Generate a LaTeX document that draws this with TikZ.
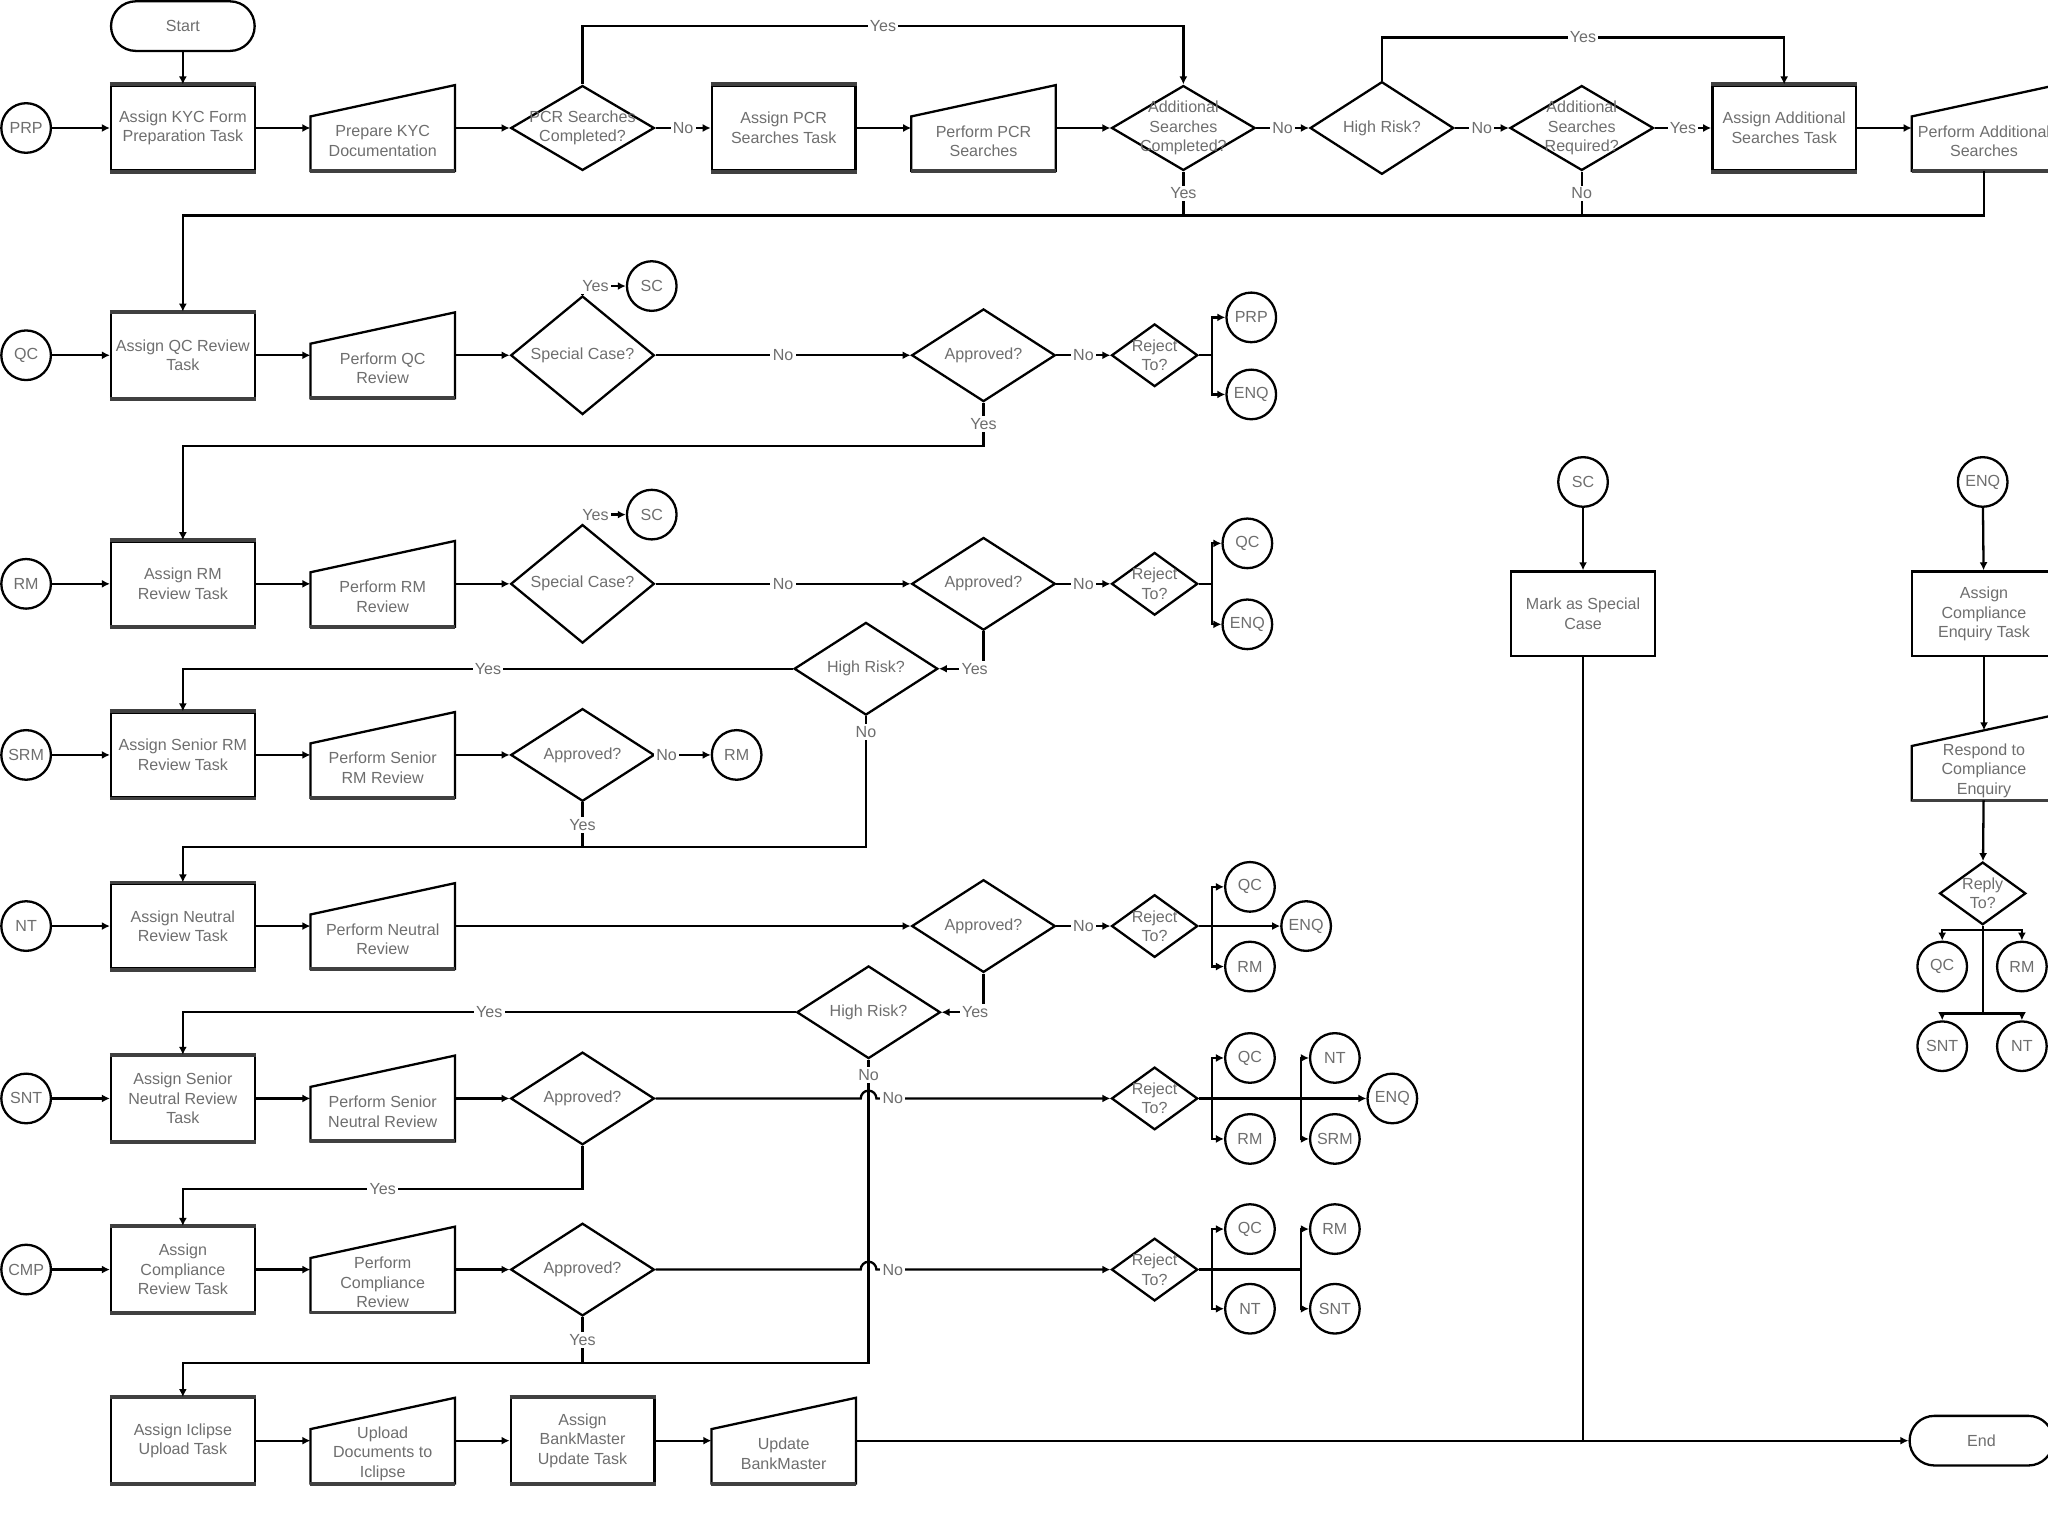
\documentclass[tikz,border=0pt]{standalone}
\usepackage{fontspec}
\setmainfont{Liberation Sans}
\usepackage{xcolor}
\usepackage{tikz}
\usetikzlibrary{positioning, arrows.meta, calc, shapes.geometric}
\definecolor{kycgray}{HTML}{6E6E6E}

\begin{document}
\begin{tikzpicture}[x=0.02cm, y=-0.02cm,
    base/.style={font=\fontsize{7}{8.5}\selectfont, text=kycgray, align=center},
    task/.style={base, draw, line width=1pt, minimum width=2.2cm, minimum height=1.3cm, inner sep=1pt},
    manual/.style={base, minimum width=2.2cm, minimum height=1.3cm, inner sep=1pt},
    mtext/.style={base, yshift=-0.2cm},
    decision/.style={base, draw, diamond, line width=1pt, minimum width=2.2cm,
                     minimum height=1.3cm, inner sep=0pt},
    choice/.style={decision, minimum width=1.32cm, minimum height=0.96cm},
    dtext/.style={base},
    link/.style={base, draw, circle, line width=1pt, minimum size=0.76cm, inner sep=0pt},
    term/.style={base, draw, rounded corners=0.38cm, line width=1pt,
                 minimum width=2.2cm, minimum height=0.76cm},
    mshape/.style={line width=1pt},
    edge/.style={line width=1.7pt, black!75},
    flow/.style={line width=1pt, -{Latex[length=3.5pt,width=3.5pt]}},
    wire/.style={line width=1pt},
    yn/.style={base, fill=white, inner sep=1pt},
]
\useasboundingbox (0,0) rectangle (1568,1176);
\clip (0,0) rectangle (1568,1176);

% Preparation and searches
\node[term] (start) at (140,20) {Start};
\node[link] (prp) at (20,98) {PRP};
\node[task] (kyctask) at (140,98) {Assign KYC Form\\Preparation Task};
\node[manual, label={[mtext]center:Prepare KYC\\Documentation}] (kycdoc) at (293,98) {};
\node[decision, label={[dtext]center:PCR Searches\\Completed?}] (pcrdone) at (446,98) {};
\node[task] (pcrtask) at (600,98) {Assign PCR\\Searches Task};
\node[manual, label={[mtext]center:Perform PCR\\Searches}] (pcrdo) at (753,98) {};
\node[decision, label={[dtext]center:Additional\\Searches\\Completed?}] (adddone) at (906,98) {};
\node[decision] (risk1) at (1058,98) {High Risk?};
\node[decision, label={[dtext]center:Additional\\Searches\\Required?}] (addreq) at (1211,98) {};
\node[task] (addtask) at (1366,98) {Assign Additional\\Searches Task};
\node[manual, label={[mtext]center:Perform Additional\\Searches}] (adddo) at (1519,98) {};

% QC review
\node[link] (qc) at (20,272) {QC};
\node[task] (qctask) at (140,272) {Assign QC Review\\Task};
\node[manual, label={[mtext]center:Perform QC\\Review}] (qcdo) at (293,272) {};
\node[decision] (qcsc) at (446,272) {Special Case?};
\node[link] (qcsccon) at (499,219) {SC};
\node[decision] (qcok) at (753,272) {Approved?};
\node[choice, label={[dtext]center:Reject\\To?}] (qcrej) at (884,272) {};
\node[link] (qcprp) at (958,243) {PRP};
\node[link] (qcenq) at (958,302) {ENQ};

% RM review
\node[link] (rm) at (20,447) {RM};
\node[task] (rmtask) at (140,447) {Assign RM\\Review Task};
\node[manual, label={[mtext]center:Perform RM\\Review}] (rmdo) at (293,447) {};
\node[decision] (rmsc) at (446,447) {Special Case?};
\node[link] (rmsccon) at (499,394) {SC};
\node[decision] (rmok) at (753,447) {Approved?};
\node[choice, label={[dtext]center:Reject\\To?}] (rmrej) at (884,447) {};
\node[link] (rmqc) at (955,416) {QC};
\node[link] (rmenq) at (955,478) {ENQ};
\node[decision] (risk2) at (663,512) {High Risk?};

% Senior RM review
\node[link] (srm) at (20,578) {SRM};
\node[task] (srmtask) at (140,578) {Assign Senior RM\\Review Task};
\node[manual, label={[mtext]center:Perform Senior\\RM Review}] (srmdo) at (293,578) {};
\node[decision] (srmok) at (446,578) {Approved?};
\node[link] (srmrm) at (564,578) {RM};

% Neutral review
\node[link] (nt) at (20,709) {NT};
\node[task] (nttask) at (140,709) {Assign Neutral\\Review Task};
\node[manual, label={[mtext]center:Perform Neutral\\Review}] (ntdo) at (293,709) {};
\node[decision] (ntok) at (753,709) {Approved?};
\node[choice, label={[dtext]center:Reject\\To?}] (ntrej) at (884,709) {};
\node[link] (ntqc) at (957,679) {QC};
\node[link] (ntenq) at (1000,709) {ENQ};
\node[link] (ntrm) at (957,740) {RM};
\node[decision] (risk3) at (665,775) {High Risk?};

% Senior neutral review
\node[link] (snt) at (20,841) {SNT};
\node[task] (snttask) at (140,841) {Assign Senior\\Neutral Review\\Task};
\node[manual, label={[mtext]center:Perform Senior\\Neutral Review}] (sntdo) at (293,841) {};
\node[decision] (sntok) at (446,841) {Approved?};
\node[choice, label={[dtext]center:Reject\\To?}] (sntrej) at (884,841) {};
\node[link] (sntqc) at (957,810) {QC};
\node[link] (sntrm) at (957,872) {RM};
\node[link] (sntnt) at (1022,810) {NT};
\node[link] (sntsrm) at (1022,872) {SRM};
\node[link] (sntenq) at (1066,841) {ENQ};

% Compliance review
\node[link] (cmp) at (20,972) {CMP};
\node[task] (cmptask) at (140,972) {Assign\\Compliance\\Review Task};
\node[manual, label={[mtext]center:Perform\\Compliance\\Review}] (cmpdo) at (293,972) {};
\node[decision] (cmpok) at (446,972) {Approved?};
\node[choice, label={[dtext]center:Reject\\To?}] (cmprej) at (884,972) {};
\node[link] (cmpqc) at (957,941) {QC};
\node[link] (cmpnt) at (957,1002) {NT};
\node[link] (cmprm) at (1022,941) {RM};
\node[link] (cmpsnt) at (1022,1002) {SNT};

% Upload and update
\node[task] (ictask) at (140,1103) {Assign Iclipse\\Upload Task};
\node[manual, label={[mtext]center:Upload\\Documents to\\Iclipse}] (icdo) at (293,1103) {};
\node[task] (bmtask) at (446,1103) {Assign\\BankMaster\\Update Task};
\node[manual, label={[mtext]center:Update\\BankMaster}] (bmdo) at (600,1103) {};
\node[term] (endnode) at (1517,1103) {End};

% Special case and enquiry
\node[link] (sc) at (1212,369) {SC};
\node[task] (spcase) at (1212,470) {Mark as Special\\Case};
\node[link] (enq) at (1518,369) {ENQ};
\node[task] (enqtask) at (1519,470) {Assign\\Compliance\\Enquiry Task};
\node[manual, label={[mtext]center:Respond to\\Compliance\\Enquiry}] (enqdo) at (1519,580) {};
\node[choice, label={[dtext]center:Reply\\To?}] (reply) at (1518,684) {};
\node[link] (replyqc) at (1487,740) {QC};
\node[link] (replyrm) at (1548,740) {RM};
\node[link] (replysnt) at (1487,801) {SNT};
\node[link] (replynt) at (1548,801) {NT};

% manual input outlines
\foreach \m in {kycdoc, pcrdo, adddo, qcdo, rmdo, srmdo, ntdo, sntdo, cmpdo, icdo, bmdo, enqdo} {
  \draw[mshape] (\m.south west) -- (\m.south east) -- (\m.north east)
                -- ([yshift=-0.48cm]\m.north west) -- cycle;
  \draw[edge] (\m.south west) -- (\m.south east);
}
% heavier top and bottom edges of the task boxes
\foreach \t in {kyctask, pcrtask, addtask, qctask, rmtask, srmtask, nttask, snttask, cmptask, ictask, bmtask} {
  \draw[edge] (\t.north west) -- (\t.north east);
  \draw[edge] (\t.south west) -- (\t.south east);
}

% connectors: preparation row
\draw[flow] (start) -- (kyctask);
\draw[flow] (prp) -- (kyctask);
\draw[flow] (kyctask) -- (kycdoc);
\draw[flow] (kycdoc) -- (pcrdone);
\draw[flow] (pcrdone) -- node[yn]{No} (pcrtask);
\draw[flow] (pcrtask) -- (pcrdo);
\draw[flow] (pcrdo) -- (adddone);
\draw[flow] (pcrdone.north) -- (pcrdone.north |- start) -- node[yn]{Yes} (adddone.north |- start) -- (adddone.north);
\draw[flow] (adddone) -- node[yn]{No} (risk1);
\draw[flow] (risk1) -- node[yn]{No} (addreq);
\draw[flow] (addreq) -- node[yn]{Yes} (addtask);
\draw[flow] (addtask) -- (adddo);
\draw[flow] (risk1.north) -- ++(0,-33) -| node[yn, pos=0.25]{Yes} (addtask.north);
\coordinate (qcbus) at (906,165);
\draw[wire] (adddo.south) |- (qcbus);
\draw[wire] (addreq.south) -- node[yn]{No} (addreq.south |- qcbus);
\draw[flow] (adddone.south) -- node[yn]{Yes} (qcbus) -| (qctask.north);

% QC row
\draw[flow] (qc) -- (qctask);
\draw[flow] (qctask) -- (qcdo);
\draw[flow] (qcdo) -- (qcsc);
\draw[flow] (qcsc.north) |- node[yn, pos=0.65]{Yes} (qcsccon);
\draw[flow] (qcsc) -- node[yn]{No} (qcok);
\draw[flow] (qcok) -- node[yn]{No} (qcrej);
\draw[flow] (qcrej.east) -- ++(10,0) |- (qcprp);
\draw[flow] (qcrej.east) -- ++(10,0) |- (qcenq);
\draw[flow] (qcok.south) -- node[yn]{Yes} ++(0,33) -| (rmtask.north);

% RM row
\draw[flow] (rm) -- (rmtask);
\draw[flow] (rmtask) -- (rmdo);
\draw[flow] (rmdo) -- (rmsc);
\draw[flow] (rmsc.north) |- node[yn, pos=0.65]{Yes} (rmsccon);
\draw[flow] (rmsc) -- node[yn]{No} (rmok);
\draw[flow] (rmok) -- node[yn]{No} (rmrej);
\draw[flow] (rmrej.east) -- ++(10,0) |- (rmqc);
\draw[flow] (rmrej.east) -- ++(10,0) |- (rmenq);
\draw[flow] (rmok.south) |- node[yn, pos=0.6]{Yes} (risk2);
\draw[flow] (risk2.west) -| node[yn, pos=0.25]{Yes} (srmtask.north);
\draw[flow] (risk2.south) -- node[yn, pos=0.12]{No} ++(0,100) coordinate (ntbus) -| (nttask.north);

% Senior RM row
\draw[flow] (srm) -- (srmtask);
\draw[flow] (srmtask) -- (srmdo);
\draw[flow] (srmdo) -- (srmok);
\draw[flow] (srmok) -- node[yn, pos=0.2]{No} (srmrm);
\draw[wire] (srmok.south) -- node[yn]{Yes} (srmok.south |- ntbus);

% NT row
\draw[flow] (nt) -- (nttask);
\draw[flow] (nttask) -- (ntdo);
\draw[flow] (ntdo) -- (ntok);
\draw[flow] (ntok) -- node[yn]{No} (ntrej);
\draw[flow] (ntrej.east) -- ++(10,0) |- (ntqc);
\draw[flow] (ntrej.east) -- ++(10,0) |- (ntrm);
\draw[flow] (ntrej) -- (ntenq);
\draw[flow] (ntok.south) |- node[yn, pos=0.6]{Yes} (risk3);
\draw[flow] (risk3.west) -| node[yn, pos=0.25]{Yes} (snttask.north);
\draw[flow] (risk3.south) -- node[yn, pos=0.05]{No} ++(0,232) coordinate (icbus) -| (ictask.north);

% SNT row
\draw[flow] (snt) -- (snttask);
\draw[flow] (snttask) -- (sntdo);
\draw[flow] (sntdo) -- (sntok);
\draw[flow] (sntok.east) -- ($(sntok -| risk3)+(-6,0)$) arc[start angle=180, end angle=0, radius=0.12cm]
  -- node[yn, pos=0.07]{No} (sntrej);
\draw[flow] (sntrej) -- (sntenq);
\draw[flow] (sntrej.east) -- ++(10,0) |- (sntqc);
\draw[flow] (sntrej.east) -- ++(10,0) |- (sntrm);
\draw[flow] (sntrej.east) -- ++(78,0) |- (sntnt);
\draw[flow] (sntrej.east) -- ++(78,0) |- (sntsrm);
\draw[flow] (sntok.south) -- ++(0,33) -| node[yn, pos=0.25]{Yes} (cmptask.north);

% CMP row
\draw[flow] (cmp) -- (cmptask);
\draw[flow] (cmptask) -- (cmpdo);
\draw[flow] (cmpdo) -- (cmpok);
\draw[flow] (cmpok.east) -- ($(cmpok -| risk3)+(-6,0)$) arc[start angle=180, end angle=0, radius=0.12cm]
  -- node[yn, pos=0.07]{No} (cmprej);
\draw[wire] (cmprej.east) -- ++(78,0);
\draw[flow] (cmprej.east) -- ++(10,0) |- (cmpqc);
\draw[flow] (cmprej.east) -- ++(10,0) |- (cmpnt);
\draw[flow] (cmprej.east) -- ++(78,0) |- (cmprm);
\draw[flow] (cmprej.east) -- ++(78,0) |- (cmpsnt);
\draw[wire] (cmpok.south) -- node[yn]{Yes} (cmpok.south |- icbus);

% upload row
\draw[flow] (ictask) -- (icdo);
\draw[flow] (icdo) -- (bmtask);
\draw[flow] (bmtask) -- (bmdo);
\draw[flow] (bmdo) -- (endnode);

% special case and enquiry
\draw[flow] (sc) -- (spcase);
\draw[wire] (spcase) -- (spcase |- endnode);
\draw[flow] (enq) -- (enqtask);
\draw[flow] (enqtask) -- ([yshift=-0.24cm]enqdo.north);
\draw[flow] (enqdo) -- (reply);
\draw[wire] (reply.south) -- ++(0,67) coordinate (replybus);
\draw[flow] (reply.south) ++(0,3) -| (replyqc);
\draw[flow] (reply.south) ++(0,3) -| (replyrm);
\draw[flow] (replybus) -| (replysnt);
\draw[flow] (replybus) -| (replynt);

\end{tikzpicture}
\end{document}
